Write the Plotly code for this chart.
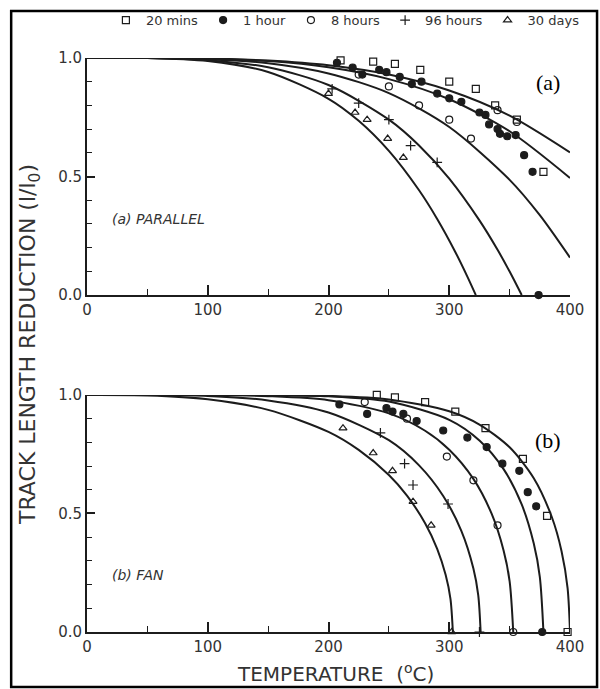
import plotly.graph_objects as go

# ---------------- data ----------------
series_names = ["20 mins", "1 hour", "8 hours", "96 hours", "30 days"]
series_symbols = ["square-open", "circle", "circle-open", "cross-thin-open", "triangle-up-open"]

# (a) PARALLEL - fitted curves
a_c1_T = [0, 50, 100, 150, 200, 250, 300, 350, 400]
a_c1_V = [1.0, 1.0, 0.998, 0.989, 0.969, 0.930, 0.863, 0.757, 0.602]
a_c2_T = [0, 50, 100, 150, 200, 250, 300, 350, 400]
a_c2_V = [1.0, 1.0, 0.997, 0.987, 0.961, 0.911, 0.826, 0.691, 0.494]
a_c3_T = [0, 50, 100, 150, 200, 250, 300, 350, 375, 400]
a_c3_V = [1.0, 1.0, 0.995, 0.978, 0.935, 0.852, 0.709, 0.486, 0.337, 0.158]
a_c4_T = [0, 50, 100, 150, 200, 250, 275, 300, 325, 340, 350, 360]
a_c4_V = [1.0, 1.0, 0.991, 0.961, 0.886, 0.740, 0.631, 0.491, 0.315, 0.191, 0.099, 0.0]
a_c5_T = [0, 50, 100, 150, 200, 225, 250, 275, 290, 305, 315, 322]
a_c5_V = [1.0, 1.0, 0.987, 0.941, 0.828, 0.735, 0.608, 0.442, 0.321, 0.182, 0.078, 0.0]

# (b) FAN - fitted curves
b_c1_T = [0, 50, 100, 150, 200, 225, 250, 265, 280, 290, 297, 301, 303]
b_c1_V = [1.0, 0.998, 0.982, 0.937, 0.844, 0.768, 0.662, 0.575, 0.459, 0.351, 0.241, 0.14, 0.0]
b_c2_T = [0, 50, 100, 150, 200, 250, 275, 295, 310, 320, 324, 326]
b_c2_V = [1.0, 1.0, 0.996, 0.977, 0.926, 0.809, 0.703, 0.574, 0.427, 0.268, 0.156, 0.0]
b_c3_T = [0, 50, 100, 150, 200, 250, 280, 300, 320, 335, 345, 350, 353]
b_c3_V = [1.0, 1.0, 1.0, 0.995, 0.978, 0.922, 0.849, 0.769, 0.646, 0.5, 0.344, 0.214, 0.0]
b_c4_T = [0, 50, 100, 150, 200, 250, 300, 325, 345, 360, 370, 375, 378]
b_c4_V = [1.0, 1.0, 1.0, 0.999, 0.994, 0.972, 0.895, 0.808, 0.687, 0.538, 0.373, 0.233, 0.0]
b_c5_T = [0, 50, 100, 150, 200, 250, 300, 325, 350, 370, 385, 393, 398, 400]
b_c5_V = [1.0, 1.0, 1.0, 1.0, 0.996, 0.981, 0.931, 0.875, 0.779, 0.649, 0.484, 0.341, 0.185, 0.0]

# (a) measured points
a_20m_T = [210, 237, 255, 276, 300, 322, 338, 356, 378]
a_20m_V = [0.99, 0.985, 0.975, 0.95, 0.90, 0.87, 0.80, 0.74, 0.52]
a_1h_T = [207, 220, 228, 242, 248, 259, 269, 277, 290, 300, 310, 325, 330, 333, 340, 342, 348, 355, 362, 369, 374]
a_1h_V = [0.98, 0.96, 0.93, 0.95, 0.94, 0.92, 0.89, 0.90, 0.85, 0.83, 0.815, 0.77, 0.76, 0.72, 0.70, 0.68, 0.67, 0.675, 0.59, 0.52, 0.0]
a_8h_T = [225, 250, 275, 300, 318, 340, 356]
a_8h_V = [0.93, 0.88, 0.80, 0.74, 0.66, 0.78, 0.73]
a_96h_T = [203, 225, 250, 268, 290]
a_96h_V = [0.87, 0.81, 0.74, 0.63, 0.56]
a_30d_T = [200, 222, 232, 249, 262]
a_30d_V = [0.85, 0.77, 0.74, 0.66, 0.58]

# (b) measured points
b_20m_T = [240, 255, 280, 305, 330, 361, 381, 398]
b_20m_V = [1.0, 0.99, 0.97, 0.93, 0.86, 0.73, 0.49, 0.0]
b_1h_T = [209, 232, 248, 253, 262, 273, 295, 315, 331, 344, 358, 365, 372, 377]
b_1h_V = [0.96, 0.92, 0.945, 0.93, 0.92, 0.89, 0.85, 0.82, 0.78, 0.71, 0.68, 0.59, 0.53, 0.0]
b_8h_T = [230, 265, 298, 320, 340, 353]
b_8h_V = [0.97, 0.90, 0.74, 0.64, 0.45, 0.0]
b_96h_T = [243, 263, 270, 299, 325]
b_96h_V = [0.84, 0.71, 0.62, 0.54, 0.0]
b_30d_T = [212, 237, 253, 270, 285, 302]
b_30d_V = [0.86, 0.755, 0.68, 0.55, 0.45, 0.0]

x_ticks = [0, 100, 200, 300, 400]
y_ticks = [0.0, 0.5, 1.0]
y_ticktext = ["0.0", "0.5", "1.0"]

# ---------------- figure ----------------
INK = "#1c1c1c"
FONT = "DejaVu Sans"
fig = go.Figure()

a_curves = [(a_c1_T, a_c1_V), (a_c2_T, a_c2_V), (a_c3_T, a_c3_V), (a_c4_T, a_c4_V), (a_c5_T, a_c5_V)]
b_curves = [(b_c1_T, b_c1_V), (b_c2_T, b_c2_V), (b_c3_T, b_c3_V), (b_c4_T, b_c4_V), (b_c5_T, b_c5_V)]
for T, V in a_curves:
    fig.add_trace(go.Scatter(x=T, y=V, mode="lines", xaxis="x", yaxis="y", showlegend=False,
                             line=dict(color=INK, width=2, shape="spline", smoothing=0.8),
                             cliponaxis=False, hoverinfo="skip"))
for T, V in b_curves:
    fig.add_trace(go.Scatter(x=T, y=V, mode="lines", xaxis="x2", yaxis="y2", showlegend=False,
                             line=dict(color=INK, width=2, shape="spline", smoothing=0.8),
                             cliponaxis=False, hoverinfo="skip"))

a_pts = [(a_20m_T, a_20m_V), (a_1h_T, a_1h_V), (a_8h_T, a_8h_V), (a_96h_T, a_96h_V), (a_30d_T, a_30d_V)]
b_pts = [(b_20m_T, b_20m_V), (b_1h_T, b_1h_V), (b_8h_T, b_8h_V), (b_96h_T, b_96h_V), (b_30d_T, b_30d_V)]
for i, name in enumerate(series_names):
    mk = dict(symbol=series_symbols[i], size=7, color=INK, line=dict(color=INK, width=1.2))
    fig.add_trace(go.Scatter(x=a_pts[i][0], y=a_pts[i][1], mode="markers", name=name,
                             xaxis="x", yaxis="y", marker=mk, legendgroup=name, cliponaxis=False))
    fig.add_trace(go.Scatter(x=b_pts[i][0], y=b_pts[i][1], mode="markers", name=name,
                             xaxis="x2", yaxis="y2", marker=mk, legendgroup=name,
                             showlegend=False, cliponaxis=False))

xax = dict(range=[0, 400], tickvals=x_ticks, ticks="inside", ticklen=10, tickwidth=1.5,
           tickcolor=INK, showline=True, linecolor=INK, linewidth=2, showgrid=False,
           zeroline=False, tickfont=dict(family=FONT, size=15, color="#333"),
           minor=dict(dtick=50, ticks="inside", ticklen=6, tickcolor=INK, tickwidth=1.2))
yax = dict(range=[0, 1.0], tickvals=y_ticks, ticktext=y_ticktext, ticks="inside", ticklen=8,
           tickwidth=1.5, tickcolor=INK, showline=True, linecolor=INK, linewidth=2,
           showgrid=False, zeroline=False, tickfont=dict(family=FONT, size=15, color="#333"),
           minor=dict(dtick=0.1, ticks="inside", ticklen=5, tickcolor=INK, tickwidth=1.2))

fig.update_layout(
    width=600, height=689,
    margin=dict(l=87, r=30, t=58, b=57, autoexpand=False),
    paper_bgcolor="white", plot_bgcolor="white",
    font=dict(family=FONT, color="#333"),
    xaxis=dict(xax, domain=[0, 1], anchor="y"),
    yaxis=dict(yax, domain=[0.587, 1.0], anchor="x"),
    xaxis2=dict(xax, domain=[0, 1], anchor="y2"),
    yaxis2=dict(yax, domain=[0.0, 0.413], anchor="x2"),
    legend=dict(orientation="h", x=0.535, xanchor="center", y=1.066, yanchor="middle",
                font=dict(family=FONT, size=13, color="#333"), itemwidth=30,
                bgcolor="rgba(0,0,0,0)", tracegroupgap=0),
    showlegend=True,
)

fig.add_shape(type="rect", xref="paper", yref="paper", x0=-0.157, x1=1.056, y0=-0.0958, y1=1.082,
              line=dict(color="black", width=2.5), fillcolor="rgba(0,0,0,0)")

fig.add_annotation(text="(a)", xref="paper", yref="paper", x=0.954, y=0.958, showarrow=False,
                   xanchor="center", yanchor="middle",
                   font=dict(family="Liberation Serif", size=22, color="black"))
fig.add_annotation(text="(b)", xref="paper", yref="paper", x=0.954, y=0.334, showarrow=False,
                   xanchor="center", yanchor="middle",
                   font=dict(family="Liberation Serif", size=22, color="black"))
fig.add_annotation(text="<i>(a) PARALLEL</i>", xref="paper", yref="paper", x=0.048, y=0.719,
                   xanchor="left", yanchor="middle", showarrow=False,
                   font=dict(family=FONT, size=14, color="#333"))
fig.add_annotation(text="<i>(b) FAN</i>", xref="paper", yref="paper", x=0.048, y=0.099,
                   xanchor="left", yanchor="middle", showarrow=False,
                   font=dict(family=FONT, size=14, color="#333"))
fig.add_annotation(text="TRACK LENGTH REDUCTION (l/l<sub>0</sub>)", xref="paper", yref="paper",
                   x=-0.12, y=0.5, textangle=-90, showarrow=False,
                   xanchor="center", yanchor="middle",
                   font=dict(family=FONT, size=22, color="#333"))
fig.add_annotation(text="TEMPERATURE  (<sup>o</sup>C)", xref="paper", yref="paper",
                   x=0.515, y=-0.072, showarrow=False, xanchor="center", yanchor="middle",
                   font=dict(family=FONT, size=20, color="#333"))

fig.write_html("out.html", config={"displayModeBar": False},
               post_script="document.body.style.margin='0px';document.body.style.padding='0px';")
